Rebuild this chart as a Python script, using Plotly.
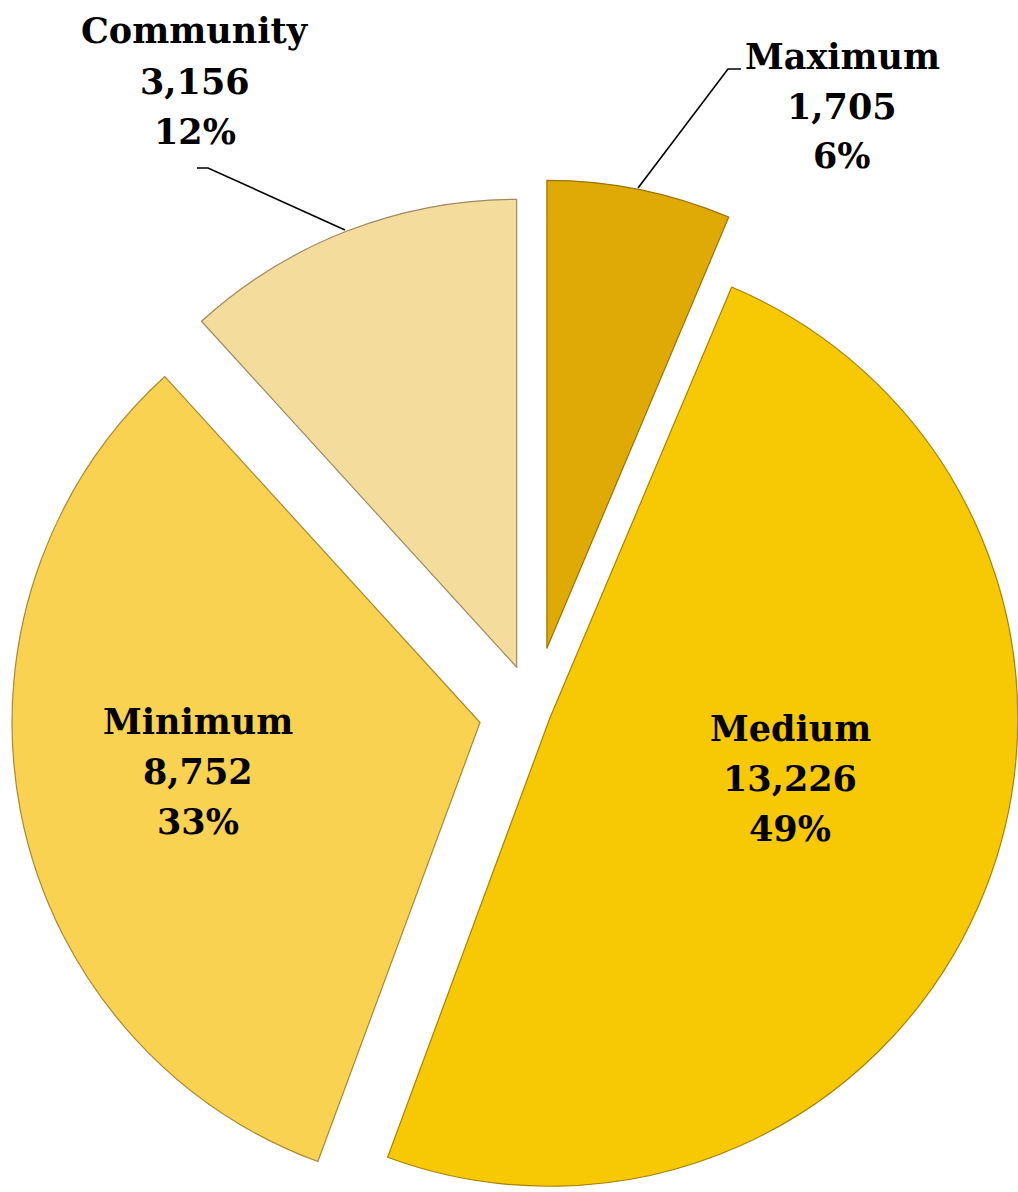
import math
import plotly.graph_objects as go

# Custody level counts, clockwise from 12 o'clock
categories = ["Maximum", "Medium", "Minimum", "Community"]
counts = [1705, 13226, 8752, 3156]

# Styling: one fill per slice and how far each slice is pulled out (px)
fills = ["#DFAA06", "#F7C804", "#F8D250", "#F4DC9C"]
outlines = ["#9C7400", "#A98400", "#A88A30", "#9E8A60"]
explode_px = [65, 17, 55, 48]

W, H = 1018, 1192
CX, CY = 534, 712      # pie centre in page pixels (y down)
R = 468                # pie radius in pixels

total = sum(counts)
fracs = [c / total for c in counts]

fig = go.Figure()

start = 0.0
for i, name in enumerate(categories):
    mid = (start + fracs[i] / 2) * 2 * math.pi
    start += fracs[i]
    # offset this slice along its bisector
    ax = CX + explode_px[i] * math.sin(mid)
    ay = CY - explode_px[i] * math.cos(mid)
    x0 = max(0.0, (ax - R) / W)
    x1 = min(1.0, (ax + R) / W)
    y0 = max(0.0, 1 - (ay + R) / H)
    y1 = min(1.0, 1 - (ay - R) / H)
    colors = [fills[j] if j == i else "rgba(0,0,0,0)" for j in range(len(categories))]
    lcolors = [outlines[j] if j == i else "rgba(0,0,0,0)" for j in range(len(categories))]
    lwidths = [1.2 if j == i else 0 for j in range(len(categories))]
    fig.add_trace(go.Pie(
        labels=categories,
        values=counts,
        sort=False,
        direction="clockwise",
        rotation=0,
        hole=0,
        textinfo="none",
        hoverinfo="label+value+percent",
        marker=dict(colors=colors, line=dict(color=lcolors, width=lwidths)),
        domain=dict(x=[x0, x1], y=[y0, y1]),
        showlegend=False,
    ))

# Data labels: name, count and share, one line each
label_pos = {
    "Maximum": (842, 56),
    "Medium": (790, 728),
    "Minimum": (198, 721),
    "Community": (195, 31),
}
LINE_GAP = 50
annotations = []
for name, c in zip(categories, counts):
    px, py = label_pos[name]
    pct = round(c / total * 100)
    for k, line in enumerate([name, f"{c:,}", f"{pct}%"]):
        annotations.append(dict(
            x=px / W, y=1 - (py + k * LINE_GAP) / H, xref="paper", yref="paper",
            xanchor="center", yanchor="middle", showarrow=False, align="center",
            text=f"<b>{line}</b>",
            font=dict(family="DejaVu Serif", size=35, color="#000000"),
        ))

# Leader lines for the two labels placed outside the pie
def leader(points):
    d = "M " + " L ".join(f"{x / W:.5f},{1 - y / H:.5f}" for x, y in points)
    return dict(type="path", path=d, xref="paper", yref="paper",
                line=dict(color="#000000", width=1.6))

shapes = [
    leader([(345, 230), (208, 168), (197, 168)]),
    leader([(638, 188), (728, 69), (741, 69)]),
]

fig.update_layout(
    width=W, height=H,
    margin=dict(l=0, r=0, t=0, b=0),
    paper_bgcolor="#FFFFFF",
    plot_bgcolor="#FFFFFF",
    annotations=annotations,
    shapes=shapes,
)

fig.write_html("out.html")
